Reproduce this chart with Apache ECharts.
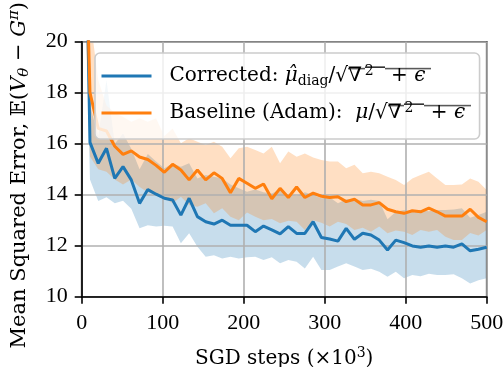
<!DOCTYPE html>
<html><head><meta charset="utf-8">
<script src="https://cdn.jsdelivr.net/npm/echarts@6/dist/echarts.min.js"></script>
<style>html,body{margin:0;padding:0;background:#fff}#c{width:504px;height:367px}</style>
</head><body><div id="c"></div>
<script>
// x positions (SGD steps, x10^3)
const steps = [0, 10.2, 20.41, 30.61, 40.82, 51.02, 61.22, 71.43, 81.63, 91.84,
  102.04, 112.24, 122.45, 132.65, 142.86, 153.06, 163.27, 173.47, 183.67, 193.88,
  204.08, 214.29, 224.49, 234.69, 244.9, 255.1, 265.31, 275.51, 285.71, 295.92,
  306.12, 316.33, 326.53, 336.73, 346.94, 357.14, 367.35, 377.55, 387.76, 397.96,
  408.16, 418.37, 428.57, 438.78, 448.98, 459.18, 469.39, 479.59, 489.8, 500];
// Corrected (blue) mean and band
const corrMean = [34, 16.05, 15.23, 15.82, 14.64, 15.1, 14.58, 13.66, 14.2, 14.02,
  13.86, 13.79, 13.2, 13.86, 13.14, 12.94, 12.85, 13.0, 12.8, 12.8,
  12.8, 12.55, 12.77, 12.62, 12.46, 12.75, 12.48, 12.48, 12.94, 12.32,
  12.26, 12.18, 12.68, 12.25, 12.49, 12.42, 12.22, 11.83, 12.22, 12.12,
  11.99, 11.94, 11.99, 11.94, 11.99, 11.94, 12.07, 11.8, 11.86, 11.94];
const corrUpper = [40, 17.5, 16.3, 18.5, 16.0, 16.4, 15.8, 15.0, 15.6, 15.3,
  15.04, 15.23, 15.1, 15.23, 14.64, 14.77, 14.7, 14.64, 14.4, 14.25,
  14.12, 14.2, 14.1, 14.05, 14.2, 14.0, 13.95, 14.1, 14.0, 13.86,
  13.9, 13.66, 13.82, 13.85, 13.75, 13.8, 13.75, 13.04, 13.33, 13.4,
  13.35, 13.4, 13.35, 13.4, 13.4, 13.42, 13.47, 13.1, 13.2, 13.33];
const corrLower = [28, 14.6, 13.75, 13.9, 13.66, 13.76, 13.45, 12.68, 12.8, 12.75,
  12.78, 12.75, 12.1, 12.49, 11.96, 11.57, 11.63, 11.5, 11.57, 11.5,
  11.55, 11.57, 11.44, 11.55, 11.31, 11.44, 11.37, 11.11, 11.57, 11.05,
  11.05, 11.18, 11.31, 11.18, 11.05, 11.1, 10.98, 10.78, 10.98, 10.72,
  10.85, 10.8, 10.9, 10.85, 10.85, 10.88, 10.72, 10.52, 10.65, 10.72];
// Baseline (orange) mean and band
const baseMean = [30, 18.0, 16.6, 16.5, 15.9, 15.58, 15.72, 15.48, 15.38, 15.15,
  14.88, 15.19, 14.97, 14.58, 14.97, 14.58, 14.86, 14.64, 14.08, 14.64,
  14.45, 14.25, 14.42, 13.84, 14.25, 13.89, 14.3, 13.89, 14.06, 13.94,
  13.89, 13.92, 13.73, 13.82, 13.6, 13.6, 13.69, 13.43, 13.33, 13.27,
  13.37, 13.33, 13.47, 13.33, 13.16, 13.16, 13.16, 13.43, 13.11, 12.94];
const baseUpper = [36, 21, 18.5, 17.5, 17.2, 17.06, 16.86, 17.0, 16.86, 17.0,
  16.3, 16.6, 16.02, 16.21, 16.08, 15.95, 16.08, 15.88, 15.43, 15.82,
  15.88, 15.75, 15.62, 15.88, 15.23, 15.69, 15.49, 15.62, 15.46, 15.36,
  15.3, 15.3, 15.04, 15.17, 14.84, 14.9, 14.84, 14.7, 14.58, 14.38,
  14.64, 14.77, 14.9, 14.64, 14.38, 14.38, 14.4, 14.64, 14.51, 14.18];
const baseLower = [25, 15.5, 15.0, 14.9, 14.6, 14.4, 14.6, 14.3, 14.1, 14.0,
  13.86, 13.66, 13.92, 13.6, 13.53, 13.66, 13.27, 13.47, 13.14, 13.0,
  13.3, 13.14, 13.0, 13.05, 12.88, 12.98, 12.94, 12.62, 13.0, 12.9,
  12.75, 12.94, 12.85, 12.62, 12.7, 12.55, 12.75, 12.49, 12.6, 12.55,
  12.42, 12.62, 12.55, 12.62, 12.35, 12.22, 12.22, 12.5, 12.4, 12.62];
const xTicks = [0, 100, 200, 300, 400, 500];
const yTicks = [10, 12, 14, 16, 18, 20];

const BLUE = '#1f77b4', ORANGE = '#ff7f0e';
const TICKFONT = 'Liberation Serif, DejaVu Serif, serif';
const SERIF = 'DejaVu Serif, Liberation Serif, serif';
const FS = 20, LH = 24;

// small canvas used as an overline background for the square-root argument
const ov = document.createElement('canvas');
ov.width = 20; ov.height = LH;
(function(){ const c = ov.getContext('2d'); c.fillStyle = '#000'; c.fillRect(0, 2.5, 20, 1.3); })();

const chart = echarts.init(document.getElementById('c'), null, {renderer: 'canvas'});

function band(upper, lower, color) {
  return {
    type: 'custom', coordinateSystem: 'cartesian2d', clip: true, silent: true, z: 0,
    data: [[250, 15]],
    renderItem: function (params, api) {
      const pts = [];
      for (let i = 0; i < steps.length; i++) pts.push(api.coord([steps[i], upper[i]]));
      for (let i = steps.length - 1; i >= 0; i--) pts.push(api.coord([steps[i], lower[i]]));
      return {type: 'polygon', shape: {points: pts}, style: {fill: color}};
    }
  };
}

const base = {fontFamily: SERIF, fontSize: FS, color: '#000', lineHeight: LH};
const sup = {fontFamily: SERIF, fontSize: 14, color: '#000', lineHeight: 14, padding: [0, 0, LH - 14, 0]};
const sub = {fontFamily: SERIF, fontSize: 14, color: '#000', lineHeight: 14, padding: [LH - 14, 0, 0, 0]};
const ovImg = {image: ov};

const yb = {fontFamily: SERIF, fontSize: 21, color: '#000', lineHeight: 25};
const ysub = {fontFamily: SERIF, fontSize: 15, color: '#000', lineHeight: 15, padding: [10, 0, 0, 0], fontStyle: 'italic'};
const ysup = {fontFamily: SERIF, fontSize: 15, color: '#000', lineHeight: 15, padding: [0, 0, 10, 0], fontStyle: 'italic'};

const rich = {
  gap: {width: 13, lineHeight: LH},
  tail: {width: 12, lineHeight: 25},
  t: base,
  i: Object.assign({}, base, {fontStyle: 'italic'}),
  sbr: Object.assign({}, sub),
  sp: Object.assign({}, sup),
  on: Object.assign({}, base, {backgroundColor: ovImg}),
  oi: Object.assign({}, base, {fontStyle: 'italic', backgroundColor: ovImg}),
  os: Object.assign({}, sup, {backgroundColor: ovImg}),
  yt: yb,
  yi: Object.assign({}, yb, {fontStyle: 'italic'}),
  ysb: ysub,
  ysp: ysup
};

const legendText = {
  'Corrected': '{gap|}{t|Corrected: }{i|μ̂}{sbr|diag}{t|/√}{on|∇}{os|2}{on| + }{oi|ϵ}',
  'Baseline': '{gap|}{t|Baseline (Adam):  }{i|μ}{t|/√}{on|∇}{os|2}{on| + }{oi|ϵ}'
};

const option = {
  animation: false,
  grid: {left: 81.7, right: 17.3, top: 41.7, bottom: 70.3, show: true, borderColor: '#000', borderWidth: 1.6,
    backgroundColor: 'transparent', z: 1, outerBoundsMode: 'none', containLabel: false},
  xAxis: {
    type: 'value', min: 0, max: 500, interval: 100, z: 1,
    name: '{t|SGD steps (×10}{sp|3}{t|)}', nameLocation: 'middle', nameGap: 50,
    nameTextStyle: {rich: rich},
    axisLine: {show: true, onZero: false, lineStyle: {color: '#000', width: 1.6}},
    axisTick: {show: true, length: 7, lineStyle: {color: '#000', width: 1.6}},
    axisLabel: {fontFamily: TICKFONT, fontSize: 22, color: '#000', margin: 16,
      formatter: function (v) { return xTicks.indexOf(v) >= 0 ? String(v) : ''; }},
    splitLine: {show: true, lineStyle: {color: '#b0b0b0', width: 1.6}}
  },
  yAxis: {
    type: 'value', min: 10, max: 20, interval: 2, z: 1,
    name: '{yt|Mean Squared Error, 𝔼(}{yi|V}{ysb|θ}{yt| − }{yi|G}{ysp|π}{yt|)}{tail|}',
    nameLocation: 'middle', nameGap: 50, nameRotate: 90,
    nameTextStyle: {rich: rich},
    axisLine: {show: true, onZero: false, lineStyle: {color: '#000', width: 1.6}},
    axisTick: {show: true, length: 7, lineStyle: {color: '#000', width: 1.6}},
    axisLabel: {fontFamily: TICKFONT, fontSize: 22, color: '#000', margin: 14,
      formatter: function (v) { return yTicks.indexOf(v) >= 0 ? String(v) : ''; }},
    splitLine: {show: true, lineStyle: {color: '#b0b0b0', width: 1.6}}
  },
  legend: {
    orient: 'vertical', left: 95, top: 53, itemWidth: 50, itemHeight: 14, itemGap: 13,
    padding: [11, 9, 14, 5],
    backgroundColor: 'rgba(255,255,255,0.8)', borderColor: '#cccccc', borderWidth: 1.6, borderRadius: 5,
    itemStyle: {opacity: 0},
    lineStyle: {width: 3, opacity: 1},
    data: ['Corrected', 'Baseline'],
    formatter: function (name) { return legendText[name]; },
    textStyle: {rich: rich}
  },
  series: [
    band(corrUpper, corrLower, 'rgba(31,119,180,0.25)'),
    band(baseUpper, baseLower, 'rgba(255,127,14,0.25)'),
    {name: 'Corrected', type: 'line', symbol: 'none', clip: true, z: 3,
      data: steps.map(function (x, i) { return [x, corrMean[i]]; }),
      lineStyle: {color: BLUE, width: 3}, itemStyle: {color: BLUE}},
    {name: 'Baseline', type: 'line', symbol: 'none', clip: true, z: 3,
      data: steps.map(function (x, i) { return [x, baseMean[i]]; }),
      lineStyle: {color: ORANGE, width: 3}, itemStyle: {color: ORANGE}}
  ]
};
chart.setOption(option);
</script></body></html>
